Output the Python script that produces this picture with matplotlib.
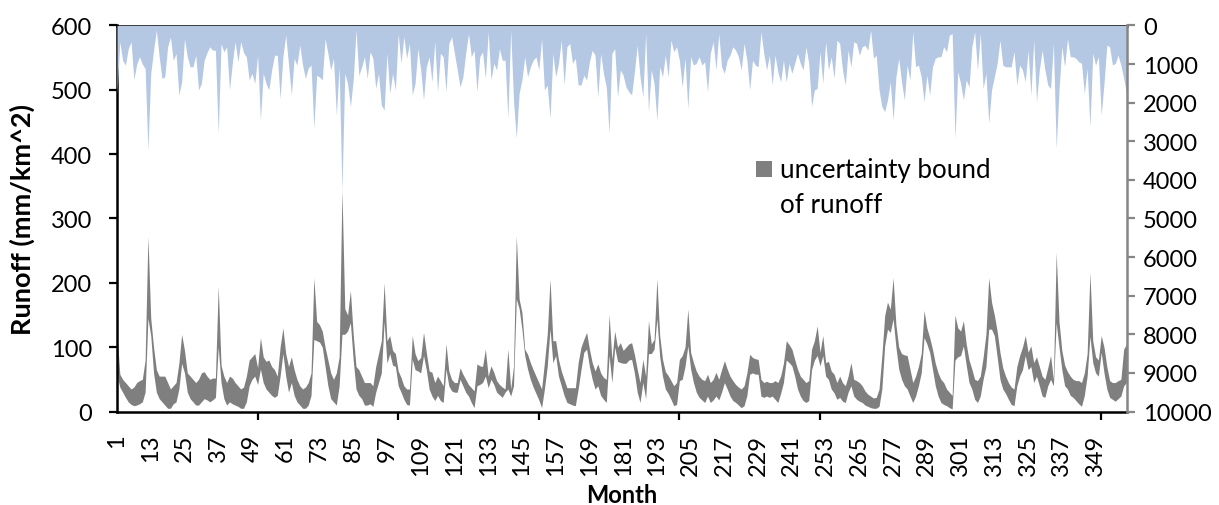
import numpy as np
import matplotlib
matplotlib.use("Agg")
import matplotlib.pyplot as plt
from matplotlib.patches import Rectangle

plt.rcParams['font.family'] = ['Lato', 'DejaVu Sans']

# Monthly precipitation (mm), plotted downward from the top on the right axis
precip = [
    1760, 420, 900, 1025, 600, 420, 1400, 1000, 810, 1000,
    1110, 3220, 1240, 640, 120, 810, 1370, 1330, 550, 300,
    900, 730, 1800, 1450, 340, 810, 1070, 1070, 770, 1670,
    1500, 900, 700, 550, 640, 640, 2800, 470, 680, 550,
    1670, 980, 420, 940, 420, 700, 810, 1410, 1240, 1500,
    770, 2450, 1240, 1500, 1670, 1150, 770, 770, 1890, 800,
    250, 1000, 1800, 850, 1025, 510, 1025, 1370, 1100, 1025,
    2660, 1290, 1330, 1410, 340, 720, 1150, 850, 2320, 1070,
    4300, 1240, 1500, 2100, 1410, 120, 1290, 1070, 810, 1370,
    680, 850, 1630, 1240, 2060, 2190, 720, 1760, 1240, 1670,
    210, 980, 290, 850, 465, 1800, 1500, 600, 1150, 1930,
    1070, 810, 1460, 420, 1715, 720, 810, 1715, 465, 290,
    720, 1150, 1590, 1330, 720, 210, 810, 640, 1715, 810,
    680, 1370, 165, 1410, 980, 1150, 600, 900, 900, 2400,
    120, 1930, 2920, 1760, 1410, 810, 1330, 1070, 900, 810,
    1150, 340, 1670, 1540, 2400, 720, 1330, 980, 380, 1540,
    550, 465, 980, 850, 1540, 1540, 1290, 1410, 940, 640,
    770, 1850, 720, 1240, 1590, 2790, 720, 600, 1850, 1150,
    1290, 1590, 1715, 1800, 1200, 510, 1330, 1850, 210, 2230,
    1150, 1500, 2450, 1070, 1330, 770, 1330, 380, 680, 550,
    900, 1590, 850, 2150, 810, 1025, 980, 810, 1025, 940,
    1715, 720, 420, 1150, 210, 1070, 1240, 900, 770, 550,
    640, 810, 1150, 465, 900, 1670, 900, 1025, 1070, 165,
    720, 1150, 770, 1540, 770, 1200, 1460, 900, 1460, 980,
    1240, 980, 720, 980, 1150, 550, 980, 2100, 1670, 1630,
    680, 1500, 420, 1150, 810, 1370, 380, 465, 1150, 1540,
    640, 1070, 420, 465, 770, 550, 510, 640, 120, 850,
    770, 1670, 2100, 2230, 1930, 1460, 2450, 1330, 850, 1460,
    1930, 1025, 1410, 165, 1070, 1025, 1330, 1970, 1290, 1800,
    1070, 850, 810, 810, 550, 680, 250, 210, 2920, 1200,
    1500, 1930, 1410, 1590, 550, 165, 1150, 210, 1630, 1240,
    2530, 1670, 1330, 980, 380, 1025, 1070, 1070, 1070, 680,
    1540, 1025, 1150, 1460, 640, 1800, 380, 1970, 1150, 640,
    1150, 1540, 1630, 465, 3180, 1670, 550, 1070, 340, 810,
    810, 850, 940, 980, 1760, 1110, 2620, 720, 1025, 810,
    2320, 1500, 510, 550, 1025, 980, 770, 1025, 1370, 1760,
]

# Upper bound of simulated runoff (mm/km^2)
runoff_upper = [
    122, 58, 50, 45, 40, 35, 38, 45, 48, 50,
    80, 272, 145, 100, 65, 55, 55, 55, 45, 35,
    40, 45, 75, 120, 95, 60, 55, 50, 45, 50,
    60, 62, 55, 50, 52, 52, 195, 72, 55, 45,
    55, 52, 45, 40, 35, 38, 55, 80, 85, 90,
    68, 115, 85, 78, 80, 70, 65, 55, 100, 130,
    90, 70, 85, 65, 50, 40, 35, 38, 45, 60,
    208, 140, 135, 125, 100, 80, 60, 50, 60, 85,
    345, 160, 150, 188, 120, 70, 65, 55, 45, 45,
    45, 40, 70, 90, 110, 200, 110, 118, 95, 90,
    63, 53, 40, 35, 35, 118, 90, 79, 84, 123,
    92, 63, 61, 45, 55, 48, 40, 105, 63, 50,
    45, 45, 68, 58, 50, 42, 37, 32, 74, 71,
    70, 97, 55, 71, 61, 48, 42, 38, 35, 97,
    35, 70, 273, 175, 154, 97, 89, 76, 65, 55,
    45, 35, 76, 120, 206, 110, 110, 81, 63, 50,
    37, 37, 37, 37, 76, 100, 112, 123, 97, 76,
    63, 74, 60, 53, 50, 151, 81, 125, 100, 107,
    95, 100, 105, 107, 89, 66, 45, 81, 55, 141,
    105, 112, 206, 118, 81, 62, 56, 48, 40, 45,
    81, 87, 100, 159, 92, 76, 63, 55, 50, 48,
    58, 45, 50, 61, 50, 65, 79, 66, 55, 48,
    42, 38, 35, 40, 60, 89, 84, 82, 81, 50,
    45, 47, 45, 45, 48, 45, 55, 75, 110, 104,
    97, 81, 66, 55, 50, 45, 48, 97, 110, 133,
    92, 118, 76, 78, 63, 58, 45, 55, 45, 40,
    55, 76, 50, 48, 45, 40, 32, 27, 24, 21,
    22, 35, 87, 149, 170, 159, 208, 135, 100, 90,
    88, 87, 66, 45, 55, 70, 90, 157, 130, 115,
    97, 75, 60, 50, 45, 35, 30, 25, 150, 130,
    125, 141, 105, 80, 66, 50, 48, 55, 84, 120,
    208, 170, 150, 125, 92, 68, 55, 45, 38, 35,
    70, 87, 100, 118, 92, 102, 76, 85, 70, 55,
    50, 68, 87, 50, 247, 140, 95, 72, 62, 55,
    50, 48, 48, 45, 60, 90, 216, 110, 85, 80,
    118, 100, 70, 48, 45, 45, 48, 50, 97, 105,
]

# Lower bound of simulated runoff (mm/km^2)
runoff_lower = [
    56, 38, 30, 22, 15, 11, 9, 10, 12, 15,
    30, 145, 118, 60, 30, 20, 15, 10, 5, 5,
    12, 15, 35, 75, 60, 30, 20, 15, 10, 10,
    15, 20, 18, 15, 18, 22, 100, 45, 20, 10,
    15, 12, 10, 8, 5, 5, 15, 40, 50, 55,
    42, 66, 45, 35, 30, 25, 22, 25, 55, 90,
    55, 30, 45, 25, 15, 10, 5, 5, 10, 25,
    112, 110, 108, 100, 70, 40, 20, 15, 10, 40,
    120, 120, 125, 138, 80, 35, 25, 20, 10, 10,
    12, 8, 30, 45, 60, 140, 75, 90, 72, 70,
    40, 30, 19, 11, 10, 81, 65, 63, 60, 87,
    65, 35, 24, 17, 25, 17, 14, 66, 40, 32,
    30, 30, 50, 40, 30, 24, 14, 6, 40, 42,
    45, 55, 37, 50, 42, 30, 26, 22, 30, 35,
    24, 40, 175, 160, 128, 87, 66, 50, 38, 28,
    18, 6, 35, 70, 128, 76, 87, 55, 40, 25,
    14, 12, 10, 9, 35, 65, 92, 97, 70, 50,
    35, 40, 25, 19, 14, 87, 45, 100, 78, 76,
    75, 75, 80, 81, 60, 30, 14, 45, 20, 90,
    90, 97, 144, 85, 55, 35, 28, 19, 9, 11,
    48, 50, 70, 102, 66, 45, 30, 22, 18, 14,
    24, 14, 18, 24, 18, 30, 45, 35, 24, 17,
    14, 10, 6, 9, 25, 58, 60, 58, 58, 24,
    22, 24, 22, 24, 19, 14, 28, 45, 80, 76,
    71, 55, 35, 24, 17, 14, 17, 65, 80, 87,
    71, 87, 55, 50, 35, 29, 19, 22, 16, 14,
    30, 40, 24, 19, 16, 14, 10, 8, 6, 5,
    5, 8, 35, 102, 128, 123, 144, 100, 66, 50,
    40, 35, 24, 14, 24, 40, 60, 115, 105, 92,
    66, 40, 24, 14, 11, 9, 6, 4, 80, 85,
    87, 102, 72, 45, 35, 19, 14, 24, 50, 70,
    128, 128, 118, 85, 50, 35, 28, 19, 11, 9,
    40, 55, 65, 87, 65, 70, 45, 55, 40, 24,
    22, 40, 50, 40, 138, 100, 65, 40, 35, 25,
    22, 17, 12, 8, 25, 55, 117, 76, 60, 55,
    92, 60, 35, 22, 19, 16, 20, 24, 40, 45,
]

months = np.arange(1, len(runoff_upper) + 1)

month_tick_labels = ["1", "13", "25", "37", "49", "61", "73", "85", "97",
                     "109", "121", "133", "145", "157", "169", "181", "193",
                     "205", "217", "229", "241", "253", "265", "277", "289",
                     "301", "313", "325", "337", "349"]
month_tick_positions = [int(s) for s in month_tick_labels]
runoff_ticks = [0, 100, 200, 300, 400, 500, 600]
precip_ticks = [0, 1000, 2000, 3000, 4000, 5000, 6000, 7000, 8000, 9000, 10000]

BAND_GREY = "#7f7f7f"
PRECIP_BLUE = "#b4c7e3"
AXIS_GREY = "#868686"
FS = 17

W, H = 1219, 506
fig = plt.figure(figsize=(W / 100, H / 100), dpi=100)
left, right, top, bottom = 117, 1126.5, 26.5, 412.5
ax = fig.add_axes([left / W, 1 - bottom / H, (right - left) / W, (bottom - top) / H])

# uncertainty band of runoff
ax.fill_between(months, runoff_lower, runoff_upper, color=BAND_GREY, lw=0, zorder=2)
ax.set_xlim(1, len(months))
ax.set_ylim(0, 600)
ax.set_yticks(runoff_ticks)
ax.tick_params(axis='y', direction='out', length=6, width=1.6, colors='black',
               labelsize=FS, pad=12)

# month axis: labels every 12 months, tick marks every 50 months
ax.set_xticks(month_tick_positions)
ax.set_xticklabels(month_tick_labels, rotation=90)
ax.tick_params(axis='x', which='major', length=0, labelsize=FS, pad=16)
ax.set_xticks(np.arange(1, len(months) + 1, 50), minor=True)
ax.tick_params(axis='x', which='minor', direction='out', length=6, width=1.6, colors='black')

for side in ('left', 'bottom', 'top'):
    ax.spines[side].set_color('black')
    ax.spines[side].set_linewidth(1.8)
ax.spines['right'].set_visible(False)

ax.set_ylabel("Runoff (mm/km^2)", fontsize=19.5, fontweight='bold')
ax.yaxis.set_label_coords(-0.094, 0.5)
ax.yaxis.label.set_va('center')
ax.set_xlabel("Month", fontsize=FS, fontweight='bold')
ax.xaxis.set_label_coords(0.5, -0.216)
ax.xaxis.label.set_va('center')

# precipitation on an inverted secondary axis
ax2 = ax.twinx()
ax2.fill_between(months, 0, precip, color=PRECIP_BLUE, lw=0, zorder=1)
ax2.set_ylim(10000, 0)
ax2.set_yticks(precip_ticks)
ax2.tick_params(axis='y', direction='out', length=6, width=1.6, colors=AXIS_GREY,
                labelcolor='black', labelsize=FS, pad=6)
for side in ('left', 'bottom', 'top'):
    ax2.spines[side].set_visible(False)
ax2.spines['right'].set_color(AXIS_GREY)
ax2.spines['right'].set_linewidth(1.8)

# legend entry for the band
fig.patches.append(Rectangle((756 / W, 1 - 178 / H), 16 / W, 16 / H,
                             transform=fig.transFigure, facecolor=BAND_GREY,
                             edgecolor='none', zorder=5))
fig.text(780 / W, 1 - 178 / H, "uncertainty bound", fontsize=18.7, va='baseline', ha='left')
fig.text(780 / W, 1 - 213 / H, "of runoff", fontsize=18.7, va='baseline', ha='left')

fig.savefig("out.png", dpi=100)
